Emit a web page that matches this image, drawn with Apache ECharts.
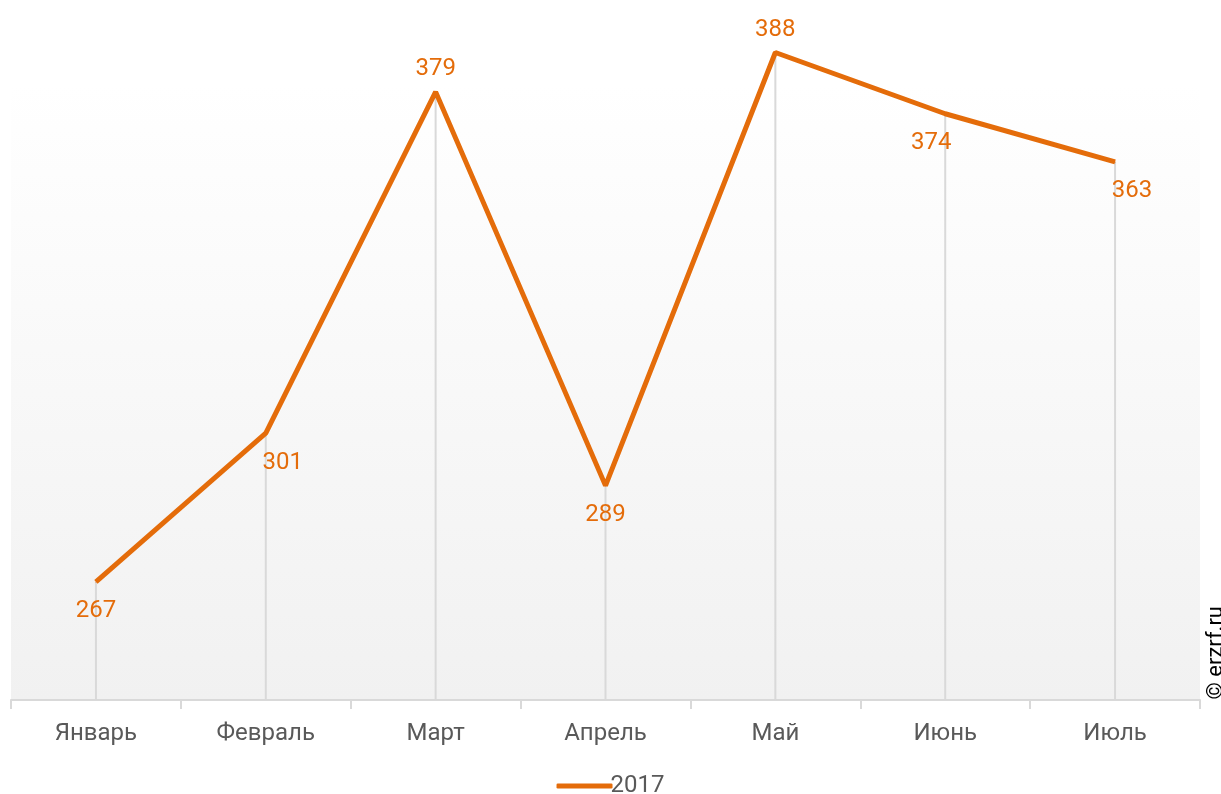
<!DOCTYPE html>
<html><head><meta charset="utf-8">
<script src="https://cdn.jsdelivr.net/npm/echarts@6/dist/echarts.min.js"></script>
<style>html,body{margin:0;padding:0;background:#fff}#c{width:1221px;height:794px}</style>
</head><body><div id="c"></div>
<script>
const categories = ['Январь','Февраль','Март','Апрель','Май','Июнь','Июль'];
const values2017 = [267, 301, 379, 289, 388, 374, 363];
const labelPositions = ['bottom','bottom','top','bottom','top','bottom','bottom'];
const labelShiftX = [0, 17, 0, 0, 0, -14, 17];
const seriesName = '2017';

const chart = echarts.init(document.getElementById('c'));
chart.setOption({
  animation: false,
  textStyle: { fontFamily: 'Roboto' },
  grid: { left: 11, right: 21, top: 0, bottom: 94, show: true, borderWidth: 0,
    backgroundColor: new echarts.graphic.LinearGradient(0,0,0,1,[
      {offset:0,color:'#ffffff'},{offset:0.12,color:'#ffffff'},{offset:1,color:'#f1f1f1'}]) },
  legend: { bottom: -9, left: 'center', itemWidth: 56, itemHeight: 5, itemGap: 10,
    data: [{name: seriesName, icon: 'roundRect'}],
    textStyle: { color: '#595959', fontSize: 24, fontFamily: 'Roboto', padding: [0,0,0,-7] } },
  xAxis: { type: 'category', data: categories, boundaryGap: true,
    axisLine: { lineStyle: { color: '#d9d9d9', width: 2 } },
    axisTick: { show: true, length: 9, lineStyle: { color: '#d9d9d9', width: 2 } },
    axisLabel: { color: '#595959', fontSize: 24, margin: 22 } },
  yAxis: { type: 'value', min: 240, max: 400, show: false, splitLine: { show: false } },
  series: [
    { type: 'bar', data: values2017, barWidth: 2, itemStyle: { color: '#d9d9d9' },
      silent: true, z: 1, legendHoverLink: false, tooltip: { show: false } },
    { name: seriesName, type: 'line', z: 3,
      symbol: 'circle', symbolSize: 1, showSymbol: true,
      lineStyle: { color: '#E46C0A', width: 5 },
      itemStyle: { color: '#E46C0A' },
      label: { show: true, fontSize: 24, color: '#E46C0A', distance: 17,
        position: 'bottom' },
      data: values2017.map((v,i)=>({ value: v, label: {
        position: labelPositions[i],
        distance: labelPositions[i] === 'top' ? 10 : 17,
        offset: [labelShiftX[i], 0] } }))
    }
  ],
  graphic: [{ type: 'text', left: 1205, top: 606, rotation: Math.PI/2,
    style: { text: '© erzrf.ru', fill: '#000', fontSize: 22, fontFamily: 'Roboto' } }]
});
</script></body></html>
